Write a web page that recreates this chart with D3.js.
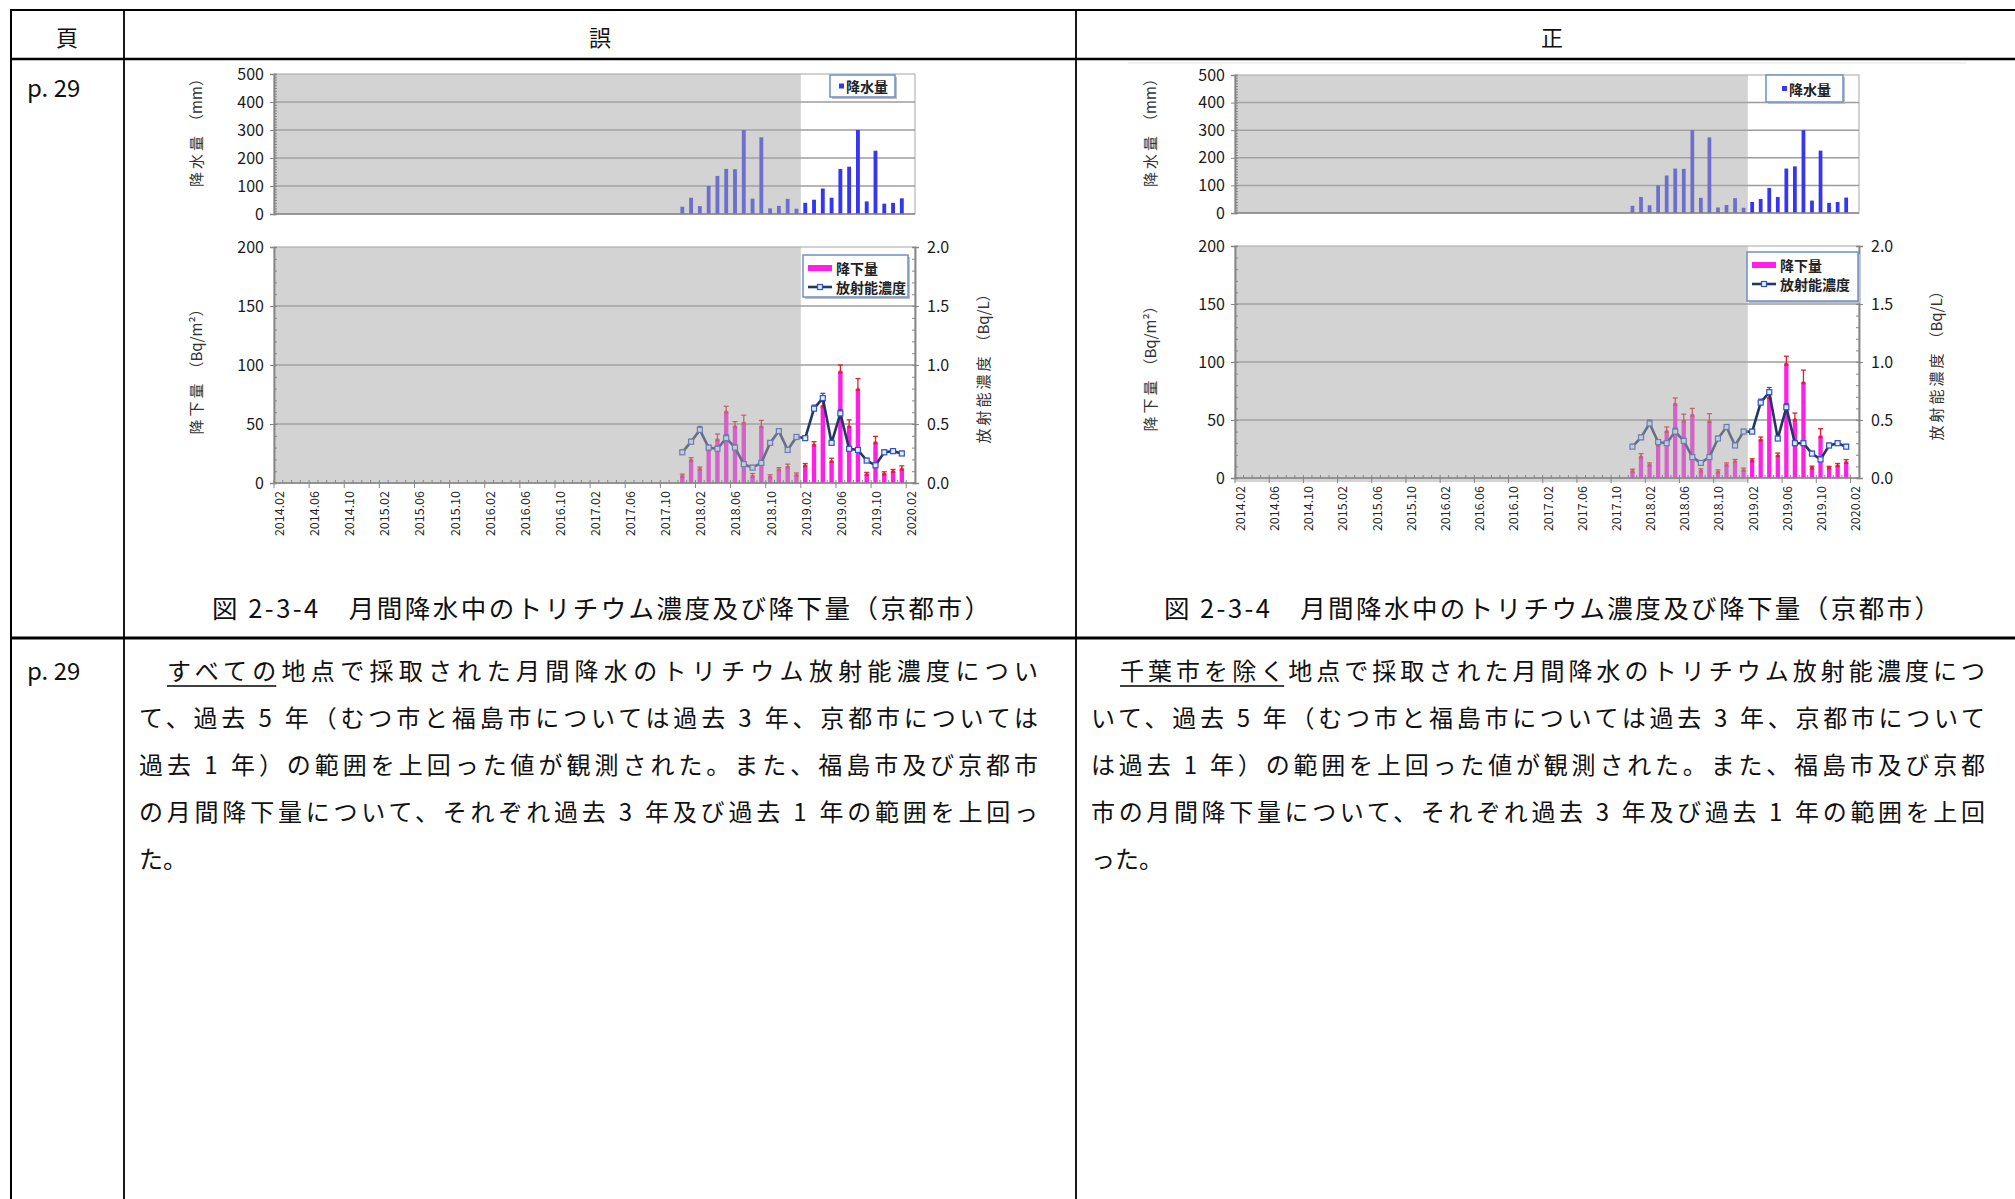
<!DOCTYPE html>
<html>
<head>
<meta charset="utf-8">
<script src="https://cdn.jsdelivr.net/npm/d3@7"></script>
<style>
  body { margin: 0; background: #fff; }
  svg { display: block; }
  text { font-family: "Noto Sans CJK JP", sans-serif; }
</style>
</head>
<body>
<svg width="2015" height="1199"></svg>
<script>
// ---- data ----
const tickLabels = ['2014.02','2014.06','2014.10','2015.02','2015.06','2015.10','2016.02','2016.06','2016.10',
  '2017.02','2017.06','2017.10','2018.02','2018.06','2018.10','2019.02','2019.06','2019.10','2020.02']
const dataMonths = ['2017.12','2018.01','2018.02','2018.03','2018.04','2018.05','2018.06','2018.07','2018.08',
  '2018.09','2018.10','2018.11','2018.12','2019.01','2019.02','2019.03','2019.04','2019.05','2019.06',
  '2019.07','2019.08','2019.09','2019.10','2019.11','2019.12','2020.01']
// monthly precipitation (mm), same in both charts
const rain = [26,58,28,100,136,161,160,300,55,274,20,29,54,19, 40,51,91,58,161,169,300,45,226,37,40,56]
// 誤 chart
const depoWrong    = [6.5,20,12.5,29,37.5,61,48.5,51.5,6.5,48.5,6,12,14.5,7.5, 15.5,33,66,19,95,48.5,80,8,35,8.5,10.5,12.5]
const depoWrongErr = [1,1.5,1,1.5,4,4,3.5,6,1.5,4.5,1,1,1.5,1, 1,2,3,2,5,5,8.5,1,4.5,1,1,2]
const concWrong    = [0.26,0.35,0.45,0.30,0.29,0.38,0.30,0.16,0.13,0.17,0.34,0.44,0.28,0.39, 0.38,0.63,0.72,0.34,0.59,0.29,0.28,0.19,0.15,0.26,0.27,0.25]
const concWrongErr = [0.02,0.02,0.03,0.02,0.02,0.03,0.02,0.02,0.02,0.02,0.02,0.02,0.02,0.02, 0.02,0.03,0.04,0.02,0.03,0.02,0.02,0.02,0.02,0.02,0.02,0.02]
// 正 chart
const depoRight    = [6.6,19,12,29,41,64.5,50,55,7,49.5,6,12,15,7.5, 15.8,33.6,70,20,99,51,83,9.5,36.5,9.5,11.5,14.3]
const depoRightErr = [1,2,1,1.5,3,4.5,5,5,1,6,1,1,1,1, 0.7,1.7,3,1.5,6,5,10,0.7,6,0.5,1,1.5]
const concRight    = [0.27,0.35,0.47,0.31,0.30,0.40,0.32,0.18,0.13,0.18,0.34,0.44,0.28,0.40, 0.40,0.65,0.74,0.34,0.61,0.30,0.30,0.21,0.16,0.28,0.30,0.27]
const concRightErr = [0.02,0.02,0.03,0.02,0.02,0.03,0.02,0.02,0.02,0.02,0.02,0.02,0.02,0.02, 0.02,0.03,0.04,0.02,0.03,0.02,0.02,0.02,0.02,0.02,0.02,0.02]
const shadeEnd = '2019.02'   // gray band covers the months before this one

const leftText = [
  'すべての地点で採取された月間降水のトリチウム放射能濃度につい',
  'て、過去 5 年（むつ市と福島市については過去 3 年、京都市については',
  '過去 1 年）の範囲を上回った値が観測された。また、福島市及び京都市',
  'の月間降下量について、それぞれ過去 3 年及び過去 1 年の範囲を上回っ',
  'た。']
const rightText = [
  '千葉市を除く地点で採取された月間降水のトリチウム放射能濃度につ',
  'いて、過去 5 年（むつ市と福島市については過去 3 年、京都市について',
  'は過去 1 年）の範囲を上回った値が観測された。また、福島市及び京都',
  '市の月間降下量について、それぞれ過去 3 年及び過去 1 年の範囲を上回',
  'った。']
const caption = '図 2-3-4　月間降水中のトリチウム濃度及び降下量（京都市）'

// full month axis 2014.02 .. 2020.02
const months = []
for (let y = 2014; y <= 2020; y++) for (let m = 1; m <= 12; m++) {
  const k = y + '.' + String(m).padStart(2, '0')
  if (k >= '2014.02' && k <= '2020.02') months.push(k)
}

const svg = d3.select('svg')
const axisColor = '#868686'
const gridColor = '#9c9c9c'
const shadeFill = 'rgba(168,168,168,0.5)'
const numFont = '"DejaVu Sans", sans-serif'

// ---- table ----
const table = svg.append('g')
function hline(y, x1, x2, w) { table.append('line').attr('x1', x1).attr('x2', x2).attr('y1', y).attr('y2', y).attr('stroke', '#000').attr('stroke-width', w) }
function vline(x, y1, y2, w) { table.append('line').attr('x1', x).attr('x2', x).attr('y1', y1).attr('y2', y2).attr('stroke', '#000').attr('stroke-width', w) }
hline(10, 10, 2015, 2)
hline(59, 10, 2015, 2.5)
hline(638, 10, 2015, 3)
vline(11, 9, 1199, 2)
vline(124, 10, 1199, 1.8)
vline(1076, 10, 1199, 1.8)

function label(x, y, s, size, anchor) {
  return svg.append('text').attr('x', x).attr('y', y).attr('font-size', size).attr('text-anchor', anchor || 'middle')
    .attr('dominant-baseline', 'central').attr('fill', '#111').text(s)
}
label(67, 36, '頁', 22)
label(600, 36, '誤', 22)
label(1552, 36, '正', 22)
label(27, 86, 'p. 29', 24, 'start').attr('font-family', '"Liberation Serif", serif')
label(27, 669, 'p. 29', 24, 'start').attr('font-family', '"Liberation Serif", serif')
label(212, 606, caption, 25.5, 'start').attr('textLength', 778).attr('lengthAdjust', 'spacing')
label(1164, 606, caption, 25.5, 'start').attr('textLength', 776).attr('lengthAdjust', 'spacing')

function paragraph(lines, xFirst, xStart, xEnd, underlineChars) {
  lines.forEach((s, i) => {
    const x = i === 0 ? xFirst : xStart
    const t = svg.append('text').attr('x', x).attr('y', 669 + i * 47).attr('font-size', 24)
      .attr('dominant-baseline', 'central').attr('fill', '#111').text(s)
    if (i < lines.length - 1) t.attr('textLength', xEnd - x).attr('lengthAdjust', 'spacing')
    if (i === 0) {
      const node = t.node()
      const a = node.getExtentOfChar(0), b = node.getExtentOfChar(underlineChars - 1)
      svg.append('line').attr('x1', a.x).attr('x2', b.x + b.width).attr('y1', 686).attr('y2', 686)
        .attr('stroke', '#000').attr('stroke-width', 1.6)
    }
  })
}
paragraph(leftText, 167, 139, 1038, 4)
paragraph(rightText, 1120, 1091, 1985, 6)

// faint border of the pasted chart image on the right
svg.append('line').attr('x1', 1128).attr('x2', 1966).attr('y1', 63).attr('y2', 63).attr('stroke', '#e4e4e4')

// ---- charts ----
function drawChart(c, depo, depoErr, conc, concErr) {
  const g = svg.append('g')
  const x = d3.scaleBand().domain(months).range([c.x0, c.x1])
  const bw = x.bandwidth()
  const cx = d => x(d) + bw / 2
  const yRain = d3.scaleLinear().domain([0, 500]).range([c.t1, c.t0])
  const yDep = d3.scaleLinear().domain([0, 200]).range([c.b1, c.b0])
  const yConc = d3.scaleLinear().domain([0, 2]).range([c.b1, c.b0])
  const shadeX = x(shadeEnd)

  // --- top panel: precipitation
  const top = g.append('g')
  top.append('rect').attr('x', c.x0).attr('y', c.t0).attr('width', c.x1 - c.x0).attr('height', c.t1 - c.t0)
    .attr('fill', '#fff').attr('stroke', '#a6a6a6')
  top.selectAll('.grid').data([100, 200, 300, 400]).join('line')
    .attr('x1', c.x0).attr('x2', c.x1).attr('y1', d => yRain(d)).attr('y2', d => yRain(d))
    .attr('stroke', gridColor).attr('stroke-width', 1.5)
  top.selectAll('.bar').data(rain).join('rect')
    .attr('x', (d, i) => cx(dataMonths[i]) - bw * 0.22).attr('width', bw * 0.44)
    .attr('y', d => yRain(d)).attr('height', d => c.t1 - yRain(d)).attr('fill', '#3535f2')
  top.append('rect').attr('x', c.x0).attr('y', c.t0).attr('width', shadeX - c.x0).attr('height', c.t1 - c.t0).attr('fill', shadeFill)

  top.append('g').attr('transform', `translate(${c.x0},0)`)
    .call(d3.axisLeft(yRain).tickValues([0, 100, 200, 300, 400, 500]).tickSize(4).tickPadding(6))
  top.append('g').attr('transform', `translate(${c.x0},0)`)
    .call(d3.axisRight(yRain).tickValues(d3.range(0, 501, 10)).tickSize(3).tickFormat(''))
  top.append('line').attr('x1', c.x0).attr('x2', c.x1).attr('y1', c.t1).attr('y2', c.t1).attr('stroke', axisColor).attr('stroke-width', 1.5)

  // --- bottom panel: deposition + concentration
  const bot = g.append('g')
  bot.append('rect').attr('x', c.x0).attr('y', c.b0).attr('width', c.x1 - c.x0).attr('height', c.b1 - c.b0)
    .attr('fill', '#fff').attr('stroke', '#a6a6a6')
  bot.selectAll('.grid').data([50, 100, 150]).join('line')
    .attr('x1', c.x0).attr('x2', c.x1).attr('y1', d => yDep(d)).attr('y2', d => yDep(d))
    .attr('stroke', gridColor).attr('stroke-width', 1.5)
  bot.selectAll('.dep').data(depo).join('rect')
    .attr('x', (d, i) => cx(dataMonths[i]) - bw * 0.25).attr('width', bw * 0.5)
    .attr('y', d => yDep(d)).attr('height', d => c.b1 - yDep(d)).attr('fill', '#ff1fe6')
  // error bars on deposition
  const depErr = bot.selectAll('.derr').data(depo).join('g').attr('stroke', '#e0202c').attr('stroke-width', 1.3)
  depErr.append('line').attr('x1', (d, i) => cx(dataMonths[i])).attr('x2', (d, i) => cx(dataMonths[i]))
    .attr('y1', d => yDep(d)).attr('y2', (d, i) => yDep(d + depoErr[i]))
  depErr.append('line').attr('x1', (d, i) => cx(dataMonths[i]) - 2.5).attr('x2', (d, i) => cx(dataMonths[i]) + 2.5)
    .attr('y1', (d, i) => yDep(d + depoErr[i])).attr('y2', (d, i) => yDep(d + depoErr[i]))
  depErr.append('path').attr('stroke', 'none').attr('fill', '#e0202c')
    .attr('d', (d, i) => { const px = cx(dataMonths[i]), py = yDep(d); return `M${px - 2.5},${py + 2.5}L${px + 2.5},${py + 2.5}L${px},${py - 1.5}Z` })

  // concentration line
  const line = d3.line().x((d, i) => cx(dataMonths[i])).y(d => yConc(d))
  bot.append('path').datum(conc).attr('d', line).attr('fill', 'none').attr('stroke', '#1f3864').attr('stroke-width', 2.6)
  const cErr = bot.selectAll('.cerr').data(conc).join('g').attr('stroke', '#2748c8').attr('stroke-width', 1.2)
  cErr.append('line').attr('x1', (d, i) => cx(dataMonths[i])).attr('x2', (d, i) => cx(dataMonths[i]))
    .attr('y1', d => yConc(d)).attr('y2', (d, i) => yConc(d + concErr[i]))
  cErr.append('line').attr('x1', (d, i) => cx(dataMonths[i]) - 2.5).attr('x2', (d, i) => cx(dataMonths[i]) + 2.5)
    .attr('y1', (d, i) => yConc(d + concErr[i])).attr('y2', (d, i) => yConc(d + concErr[i]))
  bot.selectAll('.mk').data(conc).join('rect')
    .attr('x', (d, i) => cx(dataMonths[i]) - 2.5).attr('y', d => yConc(d) - 2.5).attr('width', 5).attr('height', 5)
    .attr('fill', '#e4ecff').attr('stroke', '#2f52c8').attr('stroke-width', 1.2)

  bot.append('rect').attr('x', c.x0).attr('y', c.b0).attr('width', shadeX - c.x0).attr('height', c.b1 - c.b0 + c.shadeBelow).attr('fill', shadeFill)

  bot.append('g').attr('transform', `translate(${c.x0},0)`)
    .call(d3.axisLeft(yDep).tickValues([0, 50, 100, 150, 200]).tickSize(4).tickPadding(6))
  bot.append('g').attr('transform', `translate(${c.x0},0)`)
    .call(d3.axisRight(yDep).tickValues(d3.range(0, 201, 10)).tickSize(3).tickFormat(''))
  bot.append('g').attr('transform', `translate(${c.x1},0)`)
    .call(d3.axisRight(yConc).tickValues([0, 0.5, 1, 1.5, 2]).tickSize(4).tickPadding(8).tickFormat(d3.format('.1f')))
  bot.append('g').attr('transform', `translate(${c.x1},0)`)
    .call(d3.axisLeft(yConc).tickValues(d3.range(0, 21, 1).map(v => v / 10)).tickSize(3).tickFormat(''))

  // x axis: baseline, monthly minor ticks, major ticks at labels
  bot.append('line').attr('x1', c.x0).attr('x2', c.x1).attr('y1', c.b1).attr('y2', c.b1).attr('stroke', axisColor).attr('stroke-width', 1.5)
  bot.selectAll('.mt').data(months).join('line')
    .attr('x1', d => x(d)).attr('x2', d => x(d)).attr('y1', c.b1).attr('y2', c.b1 - 3).attr('stroke', axisColor)
  bot.selectAll('.Mt').data(tickLabels).join('line')
    .attr('x1', d => x(d)).attr('x2', d => x(d)).attr('y1', c.b1).attr('y2', c.b1 + 5).attr('stroke', axisColor)
  bot.selectAll('.xl').data(tickLabels).join('text')
    .attr('transform', d => `translate(${cx(d)},${c.b1 + 8}) rotate(-90)`)
    .attr('text-anchor', 'end').attr('dominant-baseline', 'central')
    .attr('font-family', '"Liberation Sans", sans-serif').attr('font-size', 12.5).attr('fill', '#222').text(d => d)

  g.selectAll('.domain').attr('stroke', axisColor).attr('stroke-width', 1.5)
  g.selectAll('.tick line').attr('stroke', axisColor)
  g.selectAll('.tick text').attr('font-family', numFont).attr('font-size', 16).attr('fill', '#1a1a1a')

  // axis titles: spaced kanji + unit in full-width brackets
  function vtitle(px, py, kanji, unit) {
    const t = g.append('text').attr('transform', `translate(${px},${py}) rotate(-90)`).attr('text-anchor', 'middle')
      .attr('dominant-baseline', 'central').attr('font-size', 15).attr('fill', '#333')
    t.append('tspan').attr('letter-spacing', 3).text(kanji)
    t.append('tspan').attr('dx', 4).text(unit)
  }
  vtitle(c.titleX, (c.t0 + c.t1) / 2 - 15, '降水量', '（mm）')
  vtitle(c.titleX, (c.b0 + c.b1) / 2 + 3, '降下量', '（Bq/m²）')
  vtitle(c.x1 + c.rTitle, (c.b0 + c.b1) / 2, '放射能濃度', '（Bq/L）')

  // legends
  function box(x0, y0, w, h) {
    g.append('rect').attr('x', x0 + 2).attr('y', y0 + 2).attr('width', w).attr('height', h).attr('fill', '#bfbfbf')
    g.append('rect').attr('x', x0).attr('y', y0).attr('width', w).attr('height', h).attr('fill', '#fff')
      .attr('stroke', '#6d90c4').attr('stroke-width', 1.5)
  }
  const L = c.legTop
  box(L.x, L.y, L.w, L.h)
  g.append('rect').attr('x', L.x + L.pad).attr('y', L.y + L.h / 2 - 2.5).attr('width', 5).attr('height', 5).attr('fill', '#3535f2')
  g.append('text').attr('x', L.x + L.pad + 7).attr('y', L.y + L.h / 2).attr('dominant-baseline', 'central')
    .attr('font-size', 14).attr('font-weight', 700).attr('fill', '#222').text('降水量')
  const B = c.legBot
  box(B.x, B.y, B.w, B.h)
  const sw0 = B.x + 5, sw1 = B.x + 29
  g.append('rect').attr('x', sw0).attr('y', B.y + 10).attr('width', sw1 - sw0).attr('height', 6).attr('fill', '#ff1fe6')
  g.append('text').attr('x', sw1 + 4).attr('y', B.y + 13).attr('dominant-baseline', 'central')
    .attr('font-size', 14).attr('font-weight', 700).attr('fill', '#222').text('降下量')
  g.append('line').attr('x1', sw0).attr('x2', sw1).attr('y1', B.y + 32).attr('y2', B.y + 32).attr('stroke', '#1f3864').attr('stroke-width', 2.6)
  g.append('rect').attr('x', (sw0 + sw1) / 2 - 2.5).attr('y', B.y + 29.5).attr('width', 5).attr('height', 5)
    .attr('fill', '#e4ecff').attr('stroke', '#2f52c8').attr('stroke-width', 1.2)
  g.append('text').attr('x', sw1 + 4).attr('y', B.y + 32).attr('dominant-baseline', 'central')
    .attr('font-size', 14).attr('font-weight', 700).attr('fill', '#222').text('放射能濃度')
}

drawChart({ x0: 274, x1: 915, t0: 74, t1: 214, b0: 247, b1: 483, shadeBelow: 1, titleX: 195, rTitle: 67,
  legTop: { x: 830, y: 75, w: 65, h: 22, pad: 9 }, legBot: { x: 803, y: 255, w: 105, h: 42 } },
  depoWrong, depoWrongErr, concWrong, concWrongErr)
drawChart({ x0: 1235, x1: 1859, t0: 75, t1: 213, b0: 246, b1: 478, shadeBelow: 4, titleX: 1149, rTitle: 76,
  legTop: { x: 1766, y: 75, w: 77, h: 27, pad: 16 }, legBot: { x: 1747, y: 252, w: 111, h: 49 } },
  depoRight, depoRightErr, concRight, concRightErr)
</script>
</body>
</html>
